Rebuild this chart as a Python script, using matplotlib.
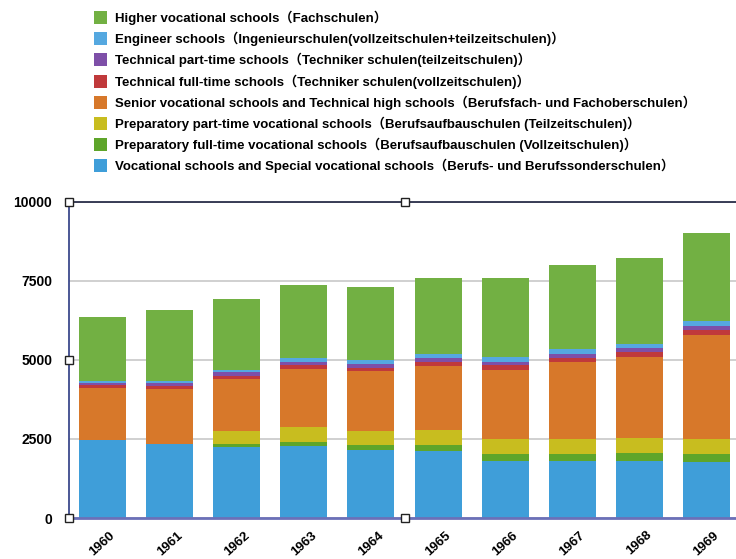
import matplotlib
matplotlib.use("Agg")
import matplotlib.pyplot as plt
import numpy as np

years = ['1960', '1961', '1962', '1963', '1964', '1965', '1966', '1967', '1968', '1969']

# stacked from the bottom up
vocational = [2470, 2350, 2240, 2280, 2160, 2110, 1790, 1790, 1790, 1770]
prep_full = [0, 0, 100, 130, 150, 190, 230, 230, 260, 250]
prep_part = [0, 0, 410, 480, 450, 490, 480, 480, 480, 480]
senior = [1650, 1720, 1640, 1830, 1890, 2020, 2180, 2440, 2570, 3300]
tech_full = [75, 105, 95, 115, 105, 125, 160, 125, 160, 160]
tech_part = [65, 105, 125, 115, 120, 125, 105, 125, 125, 125]
engineer = [75, 55, 85, 125, 125, 125, 140, 150, 125, 160]
higher = [2010, 2240, 2250, 2300, 2325, 2400, 2505, 2665, 2715, 2760]

series = [vocational, prep_full, prep_part, senior, tech_full, tech_part, engineer, higher]
labels = [
    'Vocational schools and Special vocational schools（Berufs- und Berufssonderschulen）',
    'Preparatory full-time vocational schools（Berufsaufbauschulen (Vollzeitschulen)）',
    'Preparatory part-time vocational schools（Berufsaufbauschulen (Teilzeitschulen)）',
    'Senior vocational schools and Technical high schools（Berufsfach- und Fachoberschulen）',
    'Technical full-time schools（Techniker schulen(vollzeitschulen)）',
    'Technical part-time schools（Techniker schulen(teilzeitschulen)）',
    'Engineer schools（Ingenieurschulen(vollzeitschulen+teilzeitschulen)）',
    'Higher vocational schools（Fachschulen）',
]
colors = ['#3f9ed9', '#5ea52a', '#c8bd1f', '#d7782a', '#c0393b', '#7e4fa8', '#55a8e0', '#72b043']

fam = ['Liberation Sans', 'Noto Sans CJK SC', 'DejaVu Sans']
plt.rcParams['font.family'] = fam

fig = plt.figure(figsize=(7.36, 5.59), dpi=100)
ax = fig.add_axes([69/736, 41/559, 671/736, 316/559])

x = np.arange(len(years))
bottom = np.zeros(len(years))
handles = []
for vals, c, lab in zip(series, colors, labels):
    b = ax.bar(x, vals, 0.7, bottom=bottom, color=c, label=lab, zorder=2)
    handles.append(b)
    bottom += np.array(vals)

ax.set_xlim(-0.5, len(years) - 0.5)
ax.set_ylim(0, 10000)
ax.set_yticks([0, 2500, 5000, 7500, 10000])
ax.set_yticklabels(['0', '2500', '5000', '7500', '10000'], fontsize=10, fontweight='bold')
ax.set_xticks(x)
ax.set_xticklabels(years, rotation=42, ha='center', fontsize=9.5, fontweight='bold')
ax.tick_params(length=0)
ax.tick_params(axis='y', pad=12)
ax.tick_params(axis='x', pad=8)

ax.yaxis.grid(True, color='#c8c8c8', linewidth=1.2, zorder=0)
ax.set_axisbelow(True)
ax.spines['right'].set_visible(False)
ax.spines['left'].set_color('#3d4a8c')
ax.spines['left'].set_linewidth(1.3)
ax.spines['top'].set_color('#2a2f4a')
ax.spines['top'].set_linewidth(1.3)
ax.spines['bottom'].set_color('#6b70b8')
ax.spines['bottom'].set_linewidth(2)

# selection handles on the frame
ax.plot([0, 0, 0, 0.5, 0.5], [0, 0.5, 1, 0, 1], transform=ax.transAxes,
        marker='s', ms=6, mfc='white', mec='#222222', mew=1, ls='none',
        clip_on=False, zorder=6)

fig.legend(handles[::-1], labels[::-1], loc='upper left',
           bbox_to_anchor=(87/736, 1 - 4/559), frameon=False, borderpad=0,
           handlelength=1.05, handleheight=1.15, handletextpad=0.55,
           labelspacing=0.52, prop={'family': fam, 'weight': 'bold', 'size': 9.5})

fig.savefig('out.png', dpi=100, facecolor='white')
